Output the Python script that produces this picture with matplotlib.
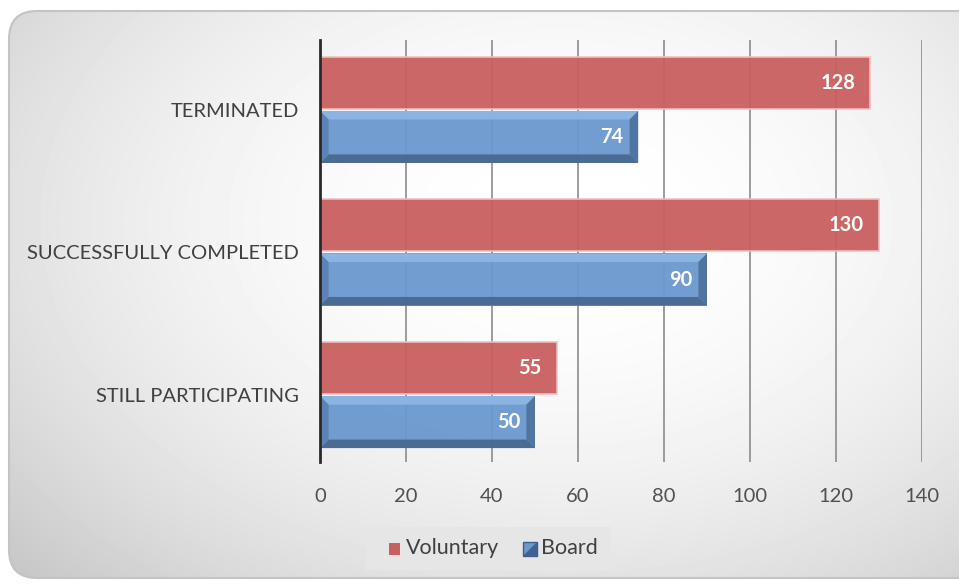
import matplotlib.pyplot as plt
import numpy as np
from matplotlib.patches import FancyBboxPatch, Polygon, Rectangle

# ---------------------------------------------------------------- data

categories = ["STILL PARTICIPATING", "SUCCESSFULLY COMPLETED", "TERMINATED"]
voluntary = [55, 130, 128]
board = [50, 90, 74]
x_ticks = [0, 20, 40, 60, 80, 100, 120, 140]

red = "#c9605f"
blue = "#6a98cf"
font = "Lato"

# ---------------------------------------------------------------- figure + background

fig = plt.figure(figsize=(9.59, 5.84), dpi=100)
fig.patch.set_facecolor("white")

bg = fig.add_axes([0, 0, 1, 1])
bg.set_xlim(0, 959)
bg.set_ylim(584, 0)
bg.axis("off")

# radial gradient, light centre, grey corners
yy, xx = np.mgrid[0:584, 0:959]
r2 = ((xx - 560) / 620) ** 2 + ((yy - 220) / 420) ** 2
shade = np.clip(1.0 - 0.15 * r2, 0.78, 1.0)
img = bg.imshow(shade, cmap="gray", vmin=0, vmax=1, extent=(0, 959, 584, 0), zorder=0)
frame = FancyBboxPatch((9, 11), 1000, 567, boxstyle="round,pad=0,rounding_size=28",
                       facecolor="none", edgecolor="#c4c4c4", lw=1.5, zorder=1)
bg.add_patch(frame)
img.set_clip_path(frame)

# ---------------------------------------------------------------- plot area

ax = fig.add_axes([320 / 959, 1 - 462 / 584, (922 - 320) / 959, (462 - 40) / 584])
ax.patch.set_alpha(0)
ax.set_xlim(0, 140)
ax.set_ylim(-0.47, 2.49)

ys = np.arange(len(categories))
h = 0.365
off = 0.19

for x in x_ticks[1:]:
    ax.axvline(x, color="#8c8c8c", lw=1.2, zorder=1)

ax.barh(ys + off, voluntary, height=h, color=red, alpha=0.95,
        edgecolor="#f0c0bf", lw=1.2, zorder=2)
ax.barh(ys - off, board, height=h, color=blue, alpha=0.95, lw=0, zorder=2)

# bevel on the board bars
bx = 2.0
by = 0.06
for y, v in zip(ys - off, board):
    y0, y1 = y - h / 2, y + h / 2
    top = Polygon([(0, y1), (v, y1), (v - bx, y1 - by), (bx, y1 - by)], closed=True,
                  facecolor="#8fb7e6", edgecolor="none", alpha=0.9, zorder=3)
    bottom = Polygon([(0, y0), (v, y0), (v - bx, y0 + by), (bx, y0 + by)], closed=True,
                     facecolor="#48698f", edgecolor="none", alpha=0.95, zorder=3)
    right = Polygon([(v, y0), (v, y1), (v - bx, y1 - by), (v - bx, y0 + by)], closed=True,
                    facecolor="#4f739e", edgecolor="none", alpha=0.95, zorder=3)
    left = Polygon([(0, y0), (0, y1), (bx, y1 - by), (bx, y0 + by)], closed=True,
                   facecolor="#5a82b4", edgecolor="none", alpha=0.95, zorder=3)
    for p in (top, bottom, right, left):
        ax.add_patch(p)

for y, v in zip(ys + off, voluntary):
    ax.text(v - 3.5, y, str(v), ha="right", va="center", color="white",
            fontsize=14.5, fontweight="bold", family=font, zorder=5)
for y, v in zip(ys - off, board):
    ax.text(v - 3.5, y, str(v), ha="right", va="center", color="white",
            fontsize=14.5, fontweight="bold", family=font, zorder=5)

ax.set_yticks(ys)
ax.set_yticklabels(categories, family=font, fontsize=14.5, color="#404040")
ax.set_xticks(x_ticks)
ax.set_xticklabels([str(t) for t in x_ticks], family=font, fontsize=14.5, color="#505050")
ax.tick_params(axis="both", length=0)
ax.tick_params(axis="x", pad=19)
ax.tick_params(axis="y", pad=15)
for s in ("top", "right", "bottom"):
    ax.spines[s].set_visible(False)
ax.spines["left"].set_color("#2a2a2a")
ax.spines["left"].set_linewidth(2)
ax.spines["left"].set_zorder(6)

# ---------------------------------------------------------------- legend

bg.add_patch(Rectangle((366, 527), 245, 43, facecolor="#e6e6e6", edgecolor="none", zorder=2))
bg.add_patch(Rectangle((389, 543), 11, 12, facecolor=red, edgecolor="none", zorder=3))
bg.text(406, 548, "Voluntary", ha="left", va="center", fontsize=15.5, color="#404040",
        family=font, zorder=3)
bg.add_patch(Rectangle((523, 542), 14, 14, facecolor=blue, edgecolor="#3e5f8a", lw=1, zorder=3))
bg.add_patch(Polygon([(523, 556), (537, 542), (537, 556)], closed=True,
                     facecolor="#3f628f", edgecolor="none", zorder=3))
bg.text(541, 548, "Board", ha="left", va="center", fontsize=15.5, color="#404040",
        family=font, zorder=3)

fig.savefig("out.png", dpi=100)
